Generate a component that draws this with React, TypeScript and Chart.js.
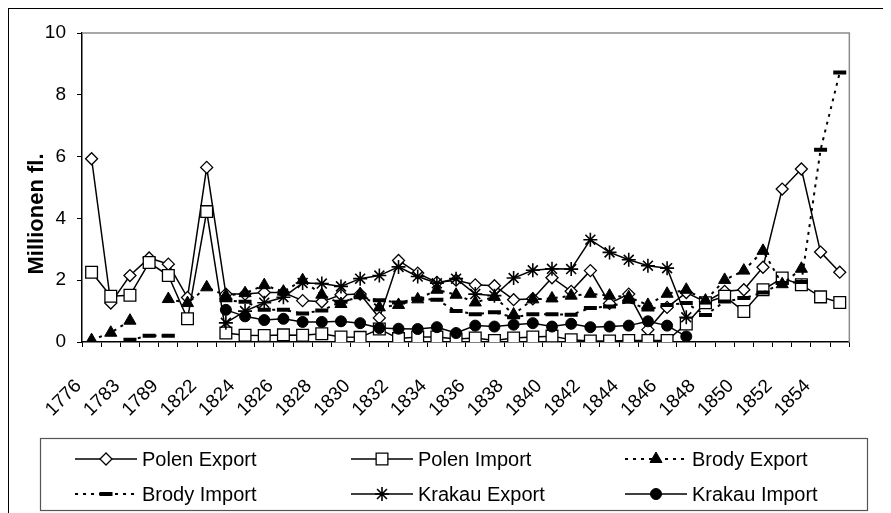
import React, { useEffect, useRef } from "react";
import { Chart, registerables } from "chart.js";
import { drawPoint } from "chart.js/helpers";

Chart.register(...registerables);

// ---- data ----
const years = [
  "1776", "1779", "1783", "1786", "1789", "1821", "1822", "1823", "1824", "1825",
  "1826", "1827", "1828", "1829", "1830", "1831", "1832", "1833", "1834", "1835",
  "1836", "1837", "1838", "1839", "1840", "1841", "1842", "1843", "1844", "1845",
  "1846", "1847", "1848", "1849", "1850", "1851", "1852", "1853", "1854", "1855",
];

const polenExport = [
  5.93, 1.26, 2.15, 2.72, 2.52, 1.44, 5.65, 1.55, 1.55, 1.6,
  1.6, 1.34, 1.3, 1.53, 1.55, 0.78, 2.64, 2.23, 1.93, 2.0,
  1.85, 1.82, 1.37, 1.4, 2.08, 1.64, 2.31, 1.25, 1.55, 0.4,
  1.12, 1.6, 1.3, 1.64, 1.69, 2.42, 4.95, 5.6, 2.91, 2.26,
];

const polenImport = [
  2.26, 1.48, 1.51, 2.57, 2.15, 0.75, 4.22, 0.29, 0.22, 0.21,
  0.23, 0.22, 0.27, 0.16, 0.15, 0.42, 0.11, 0.16, 0.16, 0.1,
  0.13, 0.05, 0.13, 0.16, 0.19, 0.07, 0.03, 0.03, 0.05, 0.05,
  0.05, 0.58, 1.27, 1.48, 0.99, 1.69, 2.07, 1.85, 1.46, 1.28,
];

const brodyExport = [
  0.06, 0.3, 0.69, null, 1.39, 1.26, 1.77, 1.5, 1.58, 1.84,
  1.63, 2.0, 1.53, 1.23, 1.55, 1.12, 1.2, 1.38, 1.69, 1.53,
  1.28, 1.46, 0.89, 1.38, 1.41, 1.5, 1.56, 1.5, 1.45, 1.2,
  1.56, 1.69, 1.34, 2.01, 2.31, 2.95, 1.87, 2.37, null, null,
];

const brodyImport = [
  null, null, 0.07, 0.2, 0.2, null, null, 1.35, 1.3, 1.04,
  1.04, 0.92, 1.02, 1.3, 1.45, 1.35, 1.28, 1.4, 1.37, 1.0,
  0.9, 0.96, 0.8, 0.9, 0.9, 0.88, 1.1, 1.15, 1.3, 1.05,
  1.2, 1.26, 0.87, 1.31, 1.42, 1.6, 1.91, 1.94, 6.22, 8.72,
];

const krakauExport = [
  null, null, null, null, null, null, null, 0.62, 1.0, 1.27,
  1.45, 1.91, 1.89, 1.8, 2.05, 2.15, 2.43, 2.12, 1.9, 2.05,
  1.55, 1.5, 2.07, 2.32, 2.37, 2.36, 3.31, 2.9, 2.66, 2.47,
  2.39, 0.8, null, null, null, null, null, null, null, null,
];

const krakauImport = [
  null, null, null, null, null, null, null, 1.04, 0.83, 0.71,
  0.75, 0.65, 0.65, 0.67, 0.61, 0.45, 0.43, 0.42, 0.48, 0.29,
  0.53, 0.5, 0.56, 0.61, 0.5, 0.59, 0.48, 0.5, 0.53, 0.67,
  0.53, 0.18, null, null, null, null, null, null, null, null,
];

const seriesNames = [
  "Polen Export",
  "Polen Import",
  "Brody Export",
  "Brody Import",
  "Krakau Export",
  "Krakau Import",
];

const yMin = 0;
const yMax = 10;
const yStep = 2;
const yTitle = "Millionen fl.";

const FONT = '"Liberation Sans", Arial, Helvetica, sans-serif';
const W = 876;
const H = 515;

const framePlugin = {
  id: "frame",
  beforeDraw(chart: any) {
    const ctx = chart.ctx;
    ctx.save();
    ctx.fillStyle = "#fff";
    ctx.fillRect(0, 0, chart.width, chart.height);
    ctx.restore();
  },
  beforeDatasetsDraw(chart: any) {
    const { ctx, chartArea: a } = chart;
    ctx.save();
    ctx.strokeStyle = "#8c8c8c";
    ctx.lineWidth = 1.5;
    ctx.beginPath();
    ctx.moveTo(a.left, a.top);
    ctx.lineTo(a.right, a.top);
    ctx.lineTo(a.right, a.bottom);
    ctx.stroke();
    ctx.restore();
  },
  afterDraw(chart: any) {
    const ctx = chart.ctx;
    ctx.save();
    ctx.strokeStyle = "#000";
    ctx.lineWidth = 1;
    ctx.strokeRect(0.5, 0.5, chart.width - 1, chart.height - 1);

    // y axis title
    ctx.save();
    ctx.translate(29, 206);
    ctx.rotate(-Math.PI / 2);
    ctx.fillStyle = "#000";
    ctx.font = `bold 22px ${FONT}`;
    ctx.textAlign = "center";
    ctx.textBaseline = "middle";
    ctx.fillText(yTitle, 0, 0);
    ctx.restore();

    // legend box
    ctx.strokeStyle = "#555";
    ctx.lineWidth = 1.2;
    ctx.strokeRect(32.5, 430.5, 827, 72);
    const cols = [67, 343, 617];
    const rows = [451, 486];
    chart.data.datasets.forEach((ds: any, i: number) => {
      const x0 = cols[i % 3];
      const y = rows[Math.floor(i / 3)];
      ctx.setLineDash(ds.borderDash || []);
      ctx.lineWidth = ds.borderWidth;
      ctx.strokeStyle = "#000";
      ctx.beginPath();
      ctx.moveTo(x0, y);
      ctx.lineTo(x0 + 62, y);
      ctx.stroke();
      ctx.setLineDash([]);
      ctx.fillStyle = ds.pointBackgroundColor;
      ctx.strokeStyle = "#000";
      ctx.lineWidth = ds.pointBorderWidth;
      drawPoint(
        ctx,
        {
          pointStyle: ds.pointStyle,
          radius: ds.pointRadius,
          rotation: 0,
          borderWidth: ds.pointBorderWidth,
        } as any,
        x0 + 31,
        y
      );
      ctx.fillStyle = "#000";
      ctx.font = `20px ${FONT}`;
      ctx.textBaseline = "middle";
      ctx.textAlign = "left";
      ctx.fillText(ds.label, x0 + 67, y + 1);
    });
    ctx.restore();
  },
};

export default function App() {
  const ref = useRef<HTMLCanvasElement | null>(null);

  useEffect(() => {
    if (!ref.current) return;
    const base = {
      borderColor: "#000",
      borderWidth: 1.5,
      pointBorderColor: "#000",
      tension: 0,
      spanGaps: false,
      fill: false,
    };
    const chart = new Chart(ref.current, {
      type: "line",
      data: {
        labels: years,
        datasets: [
          {
            ...base,
            label: seriesNames[0],
            data: polenExport,
            pointStyle: "rectRot",
            pointRadius: 6,
            pointBackgroundColor: "#fff",
            pointBorderWidth: 1.3,
            order: 5,
          },
          {
            ...base,
            label: seriesNames[1],
            data: polenImport,
            pointStyle: "rect",
            pointRadius: 8.3,
            pointBackgroundColor: "#fff",
            pointBorderWidth: 1.3,
            order: 4,
          },
          {
            ...base,
            label: seriesNames[2],
            data: brodyExport,
            borderWidth: 2,
            borderDash: [3, 5],
            pointStyle: "triangle",
            pointRadius: 7,
            pointBackgroundColor: "#000",
            pointBorderWidth: 1,
            order: 3,
          },
          {
            ...base,
            label: seriesNames[3],
            data: brodyImport,
            borderWidth: 2,
            borderDash: [3, 5],
            pointStyle: "line",
            pointRadius: 6.5,
            pointBackgroundColor: "#000",
            pointBorderWidth: 4,
            order: 2,
          },
          {
            ...base,
            label: seriesNames[4],
            data: krakauExport,
            pointStyle: "star",
            pointRadius: 7,
            pointBackgroundColor: "#000",
            pointBorderWidth: 1.6,
            order: 1,
          },
          {
            ...base,
            label: seriesNames[5],
            data: krakauImport,
            pointStyle: "circle",
            pointRadius: 5.5,
            pointBackgroundColor: "#000",
            pointBorderWidth: 1,
            order: 0,
          },
        ] as any,
      },
      options: {
        responsive: false,
        animation: false,
        devicePixelRatio: 1,
        events: [],
        layout: { padding: { left: 0, right: 7, top: 25, bottom: 101 } },
        plugins: {
          legend: { display: false },
          tooltip: { enabled: false },
          title: { display: false },
        },
        scales: {
          x: {
            type: "category",
            offset: true,
            afterFit: (s: any) => {
              s.height = 80;
            },
            grid: {
              display: true,
              offset: true,
              drawOnChartArea: false,
              drawTicks: true,
              tickLength: 5,
              color: "#000",
              lineWidth: 1,
            },
            border: { display: true, color: "#000", width: 1.5 },
            ticks: {
              autoSkip: false,
              minRotation: 45,
              maxRotation: 45,
              padding: 28,
              labelOffset: -13,
              color: "#000",
              font: { family: FONT, size: 19 },
              callback: function (this: any, _v: any, i: number) {
                return i % 2 === 0 ? years[i] : "";
              },
            },
          },
          y: {
            min: yMin,
            max: yMax,
            afterFit: (s: any) => {
              s.width = 74;
            },
            grid: {
              display: true,
              drawOnChartArea: false,
              drawTicks: true,
              tickLength: 5,
              color: "#000",
            },
            border: { display: true, color: "#000", width: 1.5 },
            ticks: {
              stepSize: yStep,
              padding: 11,
              color: "#000",
              font: { family: FONT, size: 19 },
            },
          },
        },
      },
      plugins: [framePlugin],
    });
    return () => chart.destroy();
  }, []);

  return (
    <div style={{ width: W, height: H }}>
      <canvas ref={ref} width={W} height={H} style={{ display: "block" }} />
    </div>
  );
}
